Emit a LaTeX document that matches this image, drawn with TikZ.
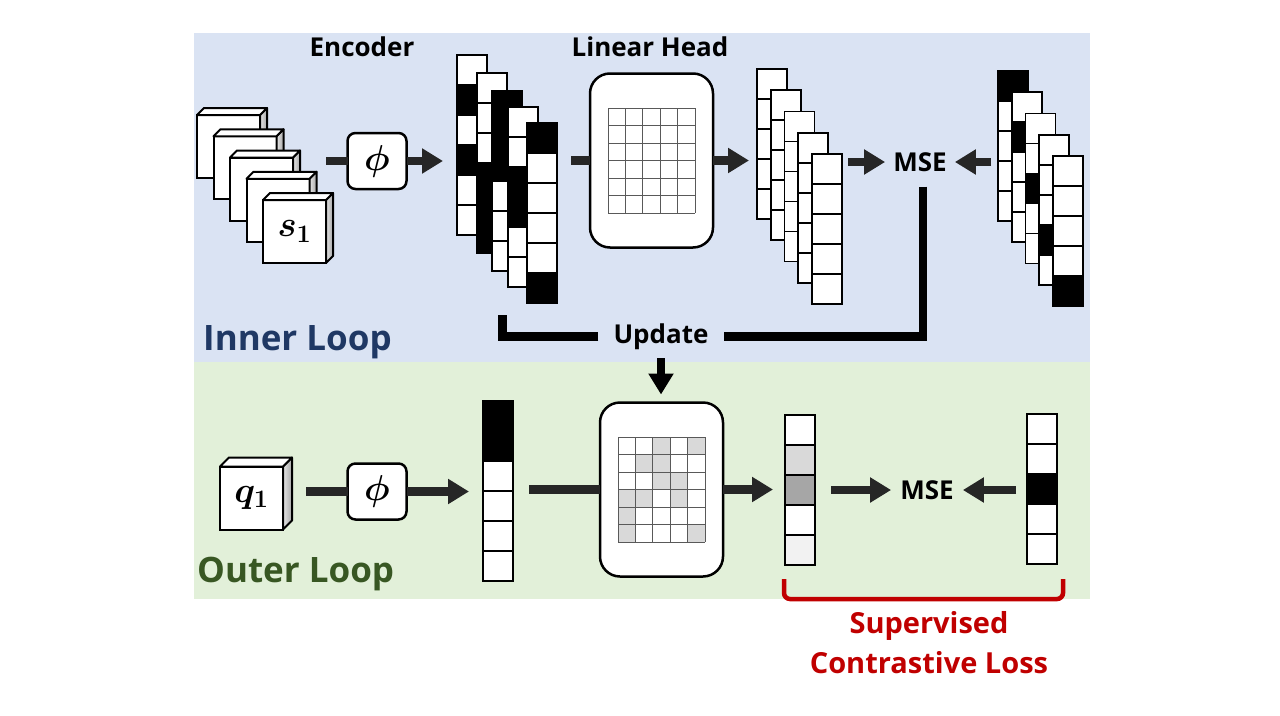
\RequirePackage{fix-cm}
\documentclass[tikz,border=0pt]{standalone}
\usepackage{fontspec}
\setmainfont{Open Sans}
\usepackage{bm}
\usepackage{tikz}
\usetikzlibrary{positioning,arrows.meta}

\definecolor{innerbg}{HTML}{DAE3F3}
\definecolor{outerbg}{HTML}{E2F0D9}
\definecolor{innertxt}{HTML}{1F3864}
\definecolor{outertxt}{HTML}{385723}
\definecolor{losscol}{HTML}{C00000}
\definecolor{arrcol}{HTML}{262626}
\definecolor{wgray}{HTML}{D9D9D9}
\definecolor{mgray}{HTML}{A6A6A6}
\definecolor{lgray}{HTML}{F2F2F2}

\tikzstyle{lbl}=[%
      font=\bfseries\fontsize{26}{30}\selectfont, inner sep=0pt
]
\tikzstyle{looplbl}=[%
      font=\bfseries\fontsize{35}{40}\selectfont, inner sep=0pt, anchor=base west
]
\tikzstyle{losslbl}=[%
      font=\bfseries\fontsize{29}{40}\selectfont, text=losscol, align=center, inner sep=0pt
]
\tikzstyle{mathlbl}=[%
      font=\fontsize{36}{38}\selectfont
]
\tikzstyle{enc}=[%
      rectangle, draw=black, line width=2.5pt, fill=white, rounded corners=8pt,
      minimum width=59pt, minimum height=56pt, inner sep=0pt, outer sep=0pt, mathlbl
]
\tikzstyle{head}=[%
      rectangle, draw=black, line width=2.5pt, fill=white, rounded corners=20pt,
      minimum width=123pt, minimum height=174pt, outer sep=0pt
]
\tikzstyle{cubefront}=[%
      rectangle, draw=black, line width=2pt, fill=white,
      minimum width=63pt, minimum height=63pt, inner sep=0pt, outer sep=0pt, mathlbl
]
\tikzstyle{cubeside}=[draw=black, line width=2pt, line join=round, left color=black!10, right color=black!35]
\tikzstyle{cubetop}=[draw=black, line width=2pt, line join=round, fill=white]
\tikzstyle{stackbox}=[rectangle, minimum width=30pt, inner sep=0pt, outer sep=0pt]
\tikzstyle{cell}=[draw=black, line width=1.8pt]
\tikzstyle{gridline}=[draw=black!65, line width=1pt]
\tikzstyle{link}=[draw=arrcol, line width=8.5pt]
\tikzstyle{arr}=[link, -{Triangle[length=21pt, width=24pt]}]
\tikzstyle{bar}=[draw=black, line width=8.5pt]
\tikzstyle{brace}=[draw=losscol, line width=4.5pt, rounded corners=6pt]

% name, front centre, depth, label
\newcommand{\imgcube}[4]{%
  \node[cubefront] (#1) at #2 {#4};
  \draw[cubeside] (#1.north east) -- ++(#3,-#3) -- ++(0,63) -- (#1.south east) -- cycle;
  \draw[cubetop] (#1.north west) -- ++(#3,-#3) -- ++(63,0) -- (#1.north east) -- cycle;
}
% name, top left corner, number of cells, fills
\newcommand{\cellstack}[4]{%
  \node[stackbox, minimum height=#3*30pt, anchor=north west] (#1) at #2 {};
  \foreach \c [count=\i from 0] in {#4}
    \draw[cell, fill=\c] ([yshift=-\i*30pt]#1.north west) rectangle ++(30,30);
}
% 5x6 grid inside a head
\newcommand{\headgrid}[1]{%
  \foreach \gx in {0,...,5}
    \draw[gridline] ([xshift=-43.5pt+\gx*17.4pt, yshift=52.5pt]#1.center) -- ++(0,105);
  \foreach \gy in {0,...,6}
    \draw[gridline] ([xshift=-43.5pt, yshift=52.5pt-\gy*17.5pt]#1.center) -- ++(87,0);
}

\begin{document}
\begin{tikzpicture}[x=1pt, y=-1pt]
\useasboundingbox (0,0) rectangle (1280,715);
\fill[innerbg] (194,33) rectangle (1090,362);
\fill[outerbg] (194,362) rectangle (1090,599);

% inner loop
\imgcube{s5}{(228.5,146.5)}{7}{}
\imgcube{s4}{(245,167.75)}{7}{}
\imgcube{s3}{(261.5,189)}{7}{}
\imgcube{s2}{(278,210.25)}{7}{}
\imgcube{s1}{(294.5,231.5)}{7}{$\bm{s_1}$}

\node[lbl, anchor=base](enclbl) at (362,56){Encoder};
\node[lbl, anchor=base](headlbl) at (650,56){Linear Head};

\node[enc](phiA) at (377,161){$\bm{\phi}$};
\coordinate (sout) at (326,161);

\cellstack{enc1}{(457,55)}{6}{white,black,white,black,white,white}
\cellstack{enc2}{(477,73)}{6}{white,white,white,black,black,black}
\cellstack{enc3}{(492,91)}{6}{black,black,black,white,white,white}
\cellstack{enc4}{(508,107)}{6}{white,white,black,black,white,white}
\cellstack{enc5}{(527,123)}{6}{black,white,white,white,white,black}

\node[head](headA) at (651.5,160.5){};
\headgrid{headA}

\cellstack{outa1}{(757,69)}{5}{white,white,white,white,white}
\cellstack{outa2}{(770.75,90.25)}{5}{white,white,white,white,white}
\cellstack{outa3}{(784.5,111.5)}{5}{white,white,white,white,white}
\cellstack{outa4}{(798.25,132.75)}{5}{white,white,white,white,white}
\cellstack{outa5}{(812,154)}{5}{white,white,white,white,white}

\node[lbl, inner xsep=8pt](mseA) at (920,162){MSE};

\cellstack{tgta1}{(998,71)}{5}{black,white,white,white,white}
\cellstack{tgta2}{(1011.75,92.25)}{5}{white,black,white,white,white}
\cellstack{tgta3}{(1025.5,113.5)}{5}{white,white,black,white,white}
\cellstack{tgta4}{(1039.25,134.75)}{5}{white,white,white,black,white}
\cellstack{tgta5}{(1053,156)}{5}{white,white,white,white,black}

\draw[link](sout) -- (phiA);
\draw[arr, shorten >=14pt](phiA) -- (phiA -| enc1.west);
\draw[link, shorten <=14pt](enc5.east |- headA) -- (headA);
\draw[arr, shorten >=8pt](headA) -- (headA -| outa1.west);
\draw[arr, shorten <=6pt](outa5.east |- mseA) -- (mseA);
\draw[arr, shorten <=7pt](tgta1.west |- mseA) -- (mseA);

\node[lbl, inner xsep=15pt, inner ysep=3pt, anchor=base](upd) at (661,343){Update};
\coordinate (updl) at (502.5,315);
\draw[bar, shorten <=15pt]([xshift=3pt]mseA.south) |- (upd.east);
\draw[bar](upd.west) -| (updl);

\node[looplbl, text=innertxt](innerlbl) at (203,350){Inner Loop};

% outer loop
\imgcube{q1}{(251.5,498)}{9}{$\bm{q_1}$}
\node[enc](phiB) at (377,491.5){$\bm{\phi}$};
\cellstack{qv}{(483,401)}{6}{black,black,white,white,white,white}

\node[head](headB) at (661.5,489.5){};
\foreach \gx/\gy in {3/1,5/1,2/2,3/2,3/3,4/3,1/4,2/4,4/4,1/5,1/6,5/6}
  \fill[wgray]([xshift=-43.5pt+(\gx-1)*17.4pt, yshift=52.5pt-(\gy-1)*17.5pt]headB.center) rectangle ++(17.4,17.5);
\headgrid{headB}

\cellstack{outb}{(785,415)}{5}{white,wgray,mgray,white,lgray}
\node[lbl, inner xsep=9pt](mseB) at (927,490){MSE};
\cellstack{tgtb}{(1027,414)}{5}{white,white,black,white,white}

\draw[link, shorten <=23pt](q1.east |- phiB) -- (phiB);
\draw[arr, shorten >=14pt](phiB) -- (phiB -| qv.west);
\draw[link, shorten <=16pt](qv.east |- headB) -- (headB);
\draw[arr, shorten >=12pt](headB) -- (headB -| outb.west);
\draw[arr, shorten <=16pt](outb.east |- mseB) -- (mseB);
\draw[arr, shorten <=11pt](tgtb.west |- mseB) -- (mseB);
\draw[arr, draw=black, shorten <=6pt, shorten >=8pt](upd.south) -- (upd.south |- headB.north);

\node[looplbl, text=outertxt](outerlbl) at (197,582){Outer Loop};

% loss
\draw[brace]([xshift=-1pt, yshift=-14pt]outb.south west) -- ++(0,20) -| ([xshift=6pt, yshift=-15pt]tgtb.south east);
\coordinate (brk) at (929,599);
\node[losslbl, below=12pt of brk](loss){Supervised\\Contrastive Loss};
\end{tikzpicture}
\end{document}
